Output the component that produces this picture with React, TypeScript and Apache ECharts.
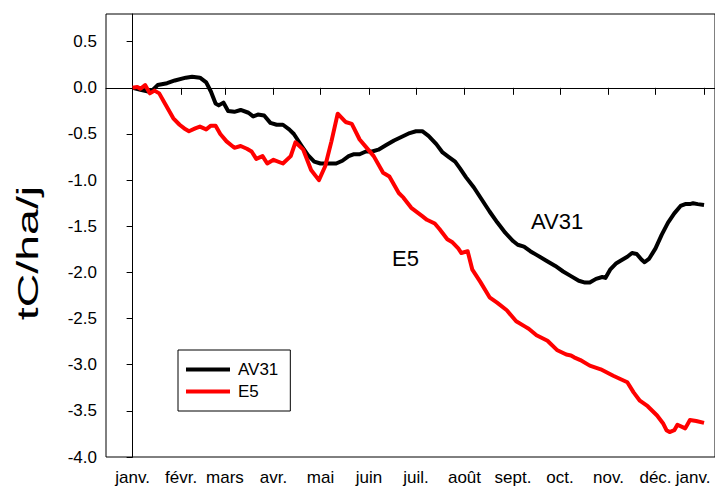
import React, { useEffect, useRef } from "react";
import * as echarts from "echarts";

// Day of year (0 = 1 Jan) and cumulative flux (tC/ha)
const av31Day = [0, 5, 10, 13, 16, 22, 27, 34, 38, 43, 47, 50, 53, 55, 58, 61, 65, 69, 74, 77, 80, 84, 88, 92, 96, 100, 103, 108, 112, 116, 120, 125, 130, 134, 138, 141, 145, 149, 153, 157, 162, 167, 172, 177, 181, 185, 189, 194, 198, 202, 206, 209, 213, 218, 223, 228, 233, 238, 243, 246, 250, 254, 258, 264, 270, 275, 280, 285, 289, 292, 296, 300, 302, 305, 309, 313, 316, 319, 322, 325, 327, 330, 334, 338, 342, 346, 350, 353, 356, 358, 361, 365];
const av31Val = [0.0, -0.02, -0.04, -0.02, 0.03, 0.05, 0.08, 0.11, 0.12, 0.11, 0.06, -0.04, -0.17, -0.19, -0.16, -0.25, -0.26, -0.24, -0.27, -0.31, -0.29, -0.3, -0.38, -0.4, -0.4, -0.45, -0.5, -0.63, -0.73, -0.8, -0.82, -0.82, -0.82, -0.79, -0.74, -0.72, -0.72, -0.69, -0.69, -0.67, -0.62, -0.57, -0.53, -0.49, -0.47, -0.47, -0.52, -0.61, -0.7, -0.75, -0.8, -0.87, -0.97, -1.08, -1.21, -1.34, -1.46, -1.57, -1.66, -1.7, -1.72, -1.77, -1.81, -1.87, -1.93, -1.99, -2.04, -2.09, -2.11, -2.11, -2.07, -2.05, -2.06, -1.97, -1.9, -1.86, -1.83, -1.79, -1.8, -1.86, -1.89, -1.85, -1.74, -1.59, -1.46, -1.36, -1.28, -1.26, -1.26, -1.25, -1.26, -1.27];

const e5Day = [0, 3, 5, 8, 11, 14, 17, 20, 23, 26, 30, 33, 36, 40, 43, 47, 50, 53, 56, 60, 65, 69, 73, 76, 79, 83, 86, 90, 96, 101, 104, 109, 114, 119, 123, 127, 131, 136, 140, 145, 149, 154, 160, 164, 170, 173, 178, 185, 188, 193, 196, 201, 204, 208, 210, 214, 217, 222, 228, 233, 239, 245, 251, 253, 258, 265, 271, 277, 280, 282, 286, 292, 299, 307, 316, 320, 324, 329, 335, 339, 341, 343, 346, 348, 353, 356, 360, 365];
const e5Val = [0.0, 0.01, -0.01, 0.03, -0.06, -0.03, -0.06, -0.15, -0.24, -0.33, -0.4, -0.44, -0.47, -0.44, -0.42, -0.45, -0.41, -0.41, -0.5, -0.58, -0.65, -0.63, -0.66, -0.69, -0.77, -0.74, -0.82, -0.78, -0.82, -0.74, -0.59, -0.67, -0.89, -1.0, -0.85, -0.58, -0.28, -0.37, -0.39, -0.56, -0.64, -0.74, -0.92, -0.96, -1.14, -1.19, -1.3, -1.39, -1.43, -1.47, -1.53, -1.64, -1.67, -1.74, -1.79, -1.77, -1.97, -2.1, -2.27, -2.33, -2.41, -2.53, -2.59, -2.61, -2.68, -2.74, -2.84, -2.89, -2.9, -2.92, -2.95, -3.01, -3.05, -3.12, -3.19, -3.3, -3.39, -3.45, -3.55, -3.64, -3.71, -3.73, -3.71, -3.65, -3.69, -3.6, -3.61, -3.63];

const monthStarts = [0, 31, 59, 90, 120, 151, 181, 212, 243, 273, 304, 334, 365];
const monthLabels = ["janv.", "févr.", "mars", "avr.", "mai", "juin", "juil.", "août", "sept.", "oct.", "nov.", "déc.", "janv."];
const yTicks = [-4, -3.5, -3, -2.5, -2, -1.5, -1, -0.5, 0, 0.5];

const FONT = "Liberation Sans, Arial, sans-serif";

export default function App() {
  const ref = useRef<HTMLDivElement>(null);
  useEffect(() => {
    if (!ref.current) return;
    const chart = echarts.init(ref.current, null, { renderer: "svg" });
    const zip = (a: number[], b: number[]) => a.map((d, i) => [d, b[i]]);
    const lastIdx = monthStarts.length - 1;
    chart.setOption({
      animation: false,
      backgroundColor: "#fff",
      grid: {
        left: 106,
        top: 14,
        right: 0,
        bottom: 33,
        show: true,
        borderColor: "#000",
        borderWidth: 1,
        outerBoundsMode: "none",
      },
      xAxis: {
        type: "value",
        min: -17,
        max: 372,
        axisLine: { show: true, lineStyle: { color: "#000", width: 1 } },
        axisTick: { show: true, length: 7, customValues: monthStarts, lineStyle: { color: "#000" } },
        axisLabel: {
          customValues: monthStarts,
          formatter: (v: number) => {
            const i = monthStarts.indexOf(Math.round(v));
            if (i < 0) return "";
            return i === lastIdx ? "{end|" + monthLabels[i] + "}" : monthLabels[i];
          },
          rich: {
            end: { color: "#000", fontSize: 17, fontFamily: FONT, padding: [0, 22, 0, 0] },
          },
          color: "#000",
          fontSize: 17,
          fontFamily: FONT,
          margin: 12,
        },
        splitLine: { show: false },
      },
      yAxis: {
        type: "value",
        min: -4,
        max: 0.8,
        axisLine: { show: true, lineStyle: { color: "#000", width: 1 } },
        axisTick: { show: true, length: 6, customValues: yTicks, lineStyle: { color: "#000" } },
        axisLabel: {
          customValues: yTicks,
          formatter: (v: number) => v.toFixed(1),
          color: "#000",
          fontSize: 17,
          fontFamily: FONT,
          margin: 9,
        },
        splitLine: { show: false },
      },
      legend: {
        left: 178,
        top: 350,
        orient: "vertical",
        icon: "rect",
        itemWidth: 44,
        itemHeight: 4,
        itemGap: 5,
        padding: [11, 12, 11, 8],
        borderColor: "#000",
        borderWidth: 1,
        backgroundColor: "#fff",
        textStyle: { color: "#000", fontSize: 17, fontFamily: FONT, padding: [0, 0, 0, 3] },
        data: ["AV31", "E5"],
      },
      graphic: [
        {
          type: "text",
          x: 28,
          y: 253,
          rotation: Math.PI / 2,
          scaleX: 1.55,
          style: { text: "tC/ha/j", fontSize: 30, fontFamily: FONT, fill: "#000", align: "center", verticalAlign: "middle" },
        },
        {
          type: "text",
          x: 531,
          y: 221,
          style: { text: "AV31", fontSize: 22, fontFamily: FONT, fill: "#000", align: "left", verticalAlign: "middle" },
        },
        {
          type: "text",
          x: 392,
          y: 258,
          style: { text: "E5", fontSize: 22, fontFamily: FONT, fill: "#000", align: "left", verticalAlign: "middle" },
        },
      ],
      series: [
        {
          name: "AV31",
          type: "line",
          data: zip(av31Day, av31Val),
          showSymbol: false,
          symbol: "none",
          color: "#000",
          lineStyle: { color: "#000", width: 4, join: "round" },
        },
        {
          name: "E5",
          type: "line",
          data: zip(e5Day, e5Val),
          showSymbol: false,
          symbol: "none",
          color: "#ff0000",
          lineStyle: { color: "#ff0000", width: 4, join: "round" },
        },
      ],
    });
    return () => chart.dispose();
  }, []);
  return <div ref={ref} style={{ position: "absolute", left: 0, top: 0, width: 715, height: 490 }} />;
}
